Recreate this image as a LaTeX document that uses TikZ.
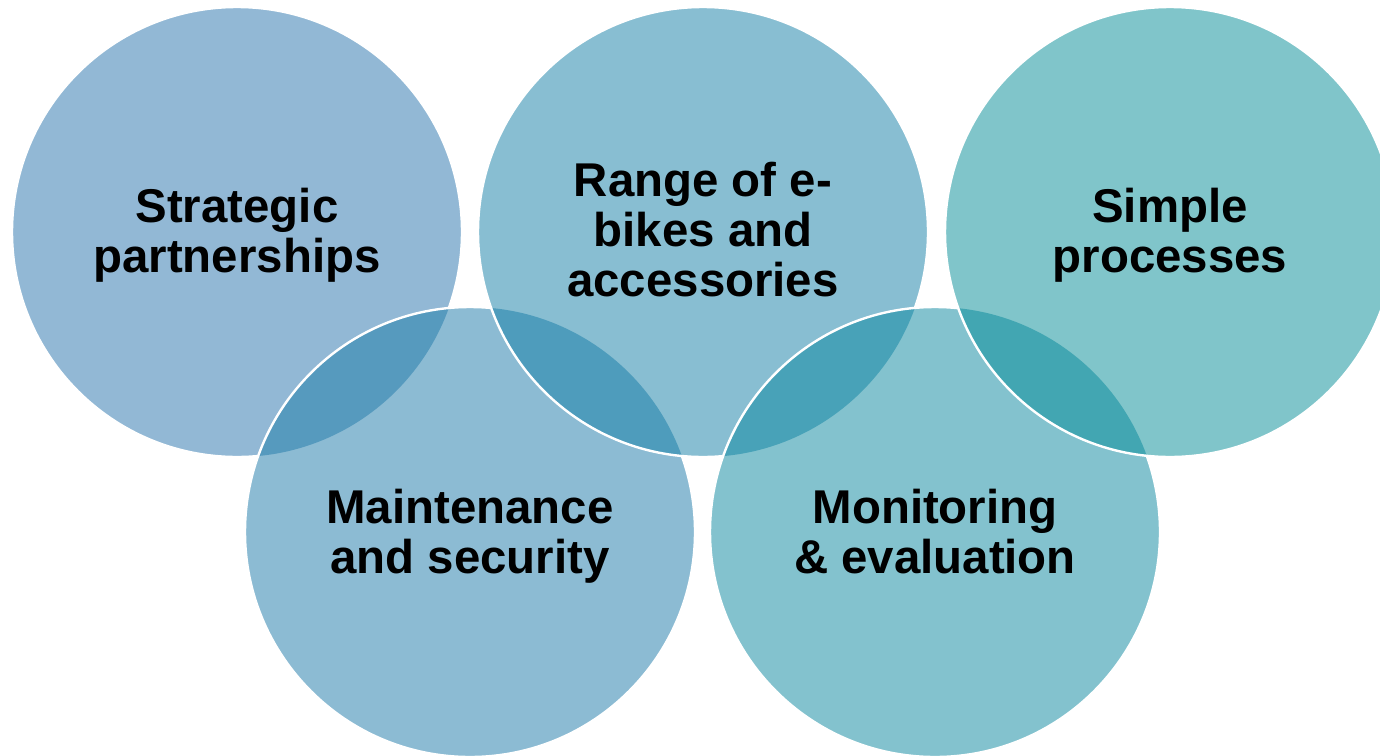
\documentclass[tikz,border=0pt]{standalone}
\usepackage{fontspec}
\setmainfont{Liberation Sans}
\usepackage{tikz}

\definecolor{ringA}{HTML}{92B8D5}
\definecolor{ringB}{HTML}{88BED2}
\definecolor{ringC}{HTML}{80C5CA}
\definecolor{ringD}{HTML}{8CBBD3}
\definecolor{ringE}{HTML}{83C2CE}
\definecolor{lensAD}{HTML}{569ABE}
\definecolor{lensBD}{HTML}{4E9CBC}
\definecolor{lensBE}{HTML}{48A2B8}
\definecolor{lensCE}{HTML}{42A6B2}
\newcommand{\drawr}{\draw[draw=white, line width=1.2pt]}
\newcommand{\rr}{112.5pt}

\begin{document}
\begin{tikzpicture}[x=0.5pt, y=-0.5pt,
  ringtext/.style={align=center, inner sep=0pt, text=black,
    font=\fontsize{23.7}{25}\selectfont\bfseries}]
\useasboundingbox (0,0) rectangle (1380,755);
\clip (0,0) rectangle (1380,755);

%Tam cac vong tron
\coordinate (sp) at (237,232);
\coordinate (re) at (703,232);
\coordinate (pr) at (1170,232);
\coordinate (ms) at (470,532);
\coordinate (me) at (935,532);

%Vong 1 - Strategic partnerships
\fill[ringA] (sp) circle [radius=\rr];
\drawr (sp) circle [radius=\rr];

%Vong 4 - Maintenance and security
\fill[ringD] (ms) circle [radius=\rr];
\begin{scope}
\clip (sp) circle [radius=\rr];
\fill[lensAD] (ms) circle [radius=\rr]; % phan giao 1-4
\end{scope}
\drawr (ms) circle [radius=\rr];

%Vong 2 - Range of e-bikes
\fill[ringB] (re) circle [radius=\rr];
\begin{scope}
\clip (ms) circle [radius=\rr];
\fill[lensBD] (re) circle [radius=\rr]; % phan giao 2-4
\end{scope}
\drawr (re) circle [radius=\rr];

%Vong 5 - Monitoring & evaluation
\fill[ringE] (me) circle [radius=\rr];
\begin{scope}
\clip (re) circle [radius=\rr];
\fill[lensBE] (me) circle [radius=\rr]; % phan giao 2-5
\end{scope}
\drawr (me) circle [radius=\rr];

%Vong 3 - Simple processes
\fill[ringC] (pr) circle [radius=\rr];
\begin{scope}
\clip (me) circle [radius=\rr];
\fill[lensCE] (pr) circle [radius=\rr]; % phan giao 3-5
\end{scope}
\drawr (pr) circle [radius=\rr];

%Chu trong vong
\node[ringtext, yshift=-1.5pt] (tsp) at (sp) {Strategic\\partnerships};
\node[ringtext, yshift=1pt] (tre) at (re) {Range of e-\\bikes and\\accessories};
\node[ringtext, yshift=-1.8pt] (tpr) at (pr) {Simple\\processes};
\node[ringtext, yshift=-2pt] (tms) at (ms) {Maintenance\\and security};
\node[ringtext] (tme) at (me) {Monitoring\\\& evaluation};
\end{tikzpicture}
\end{document}
